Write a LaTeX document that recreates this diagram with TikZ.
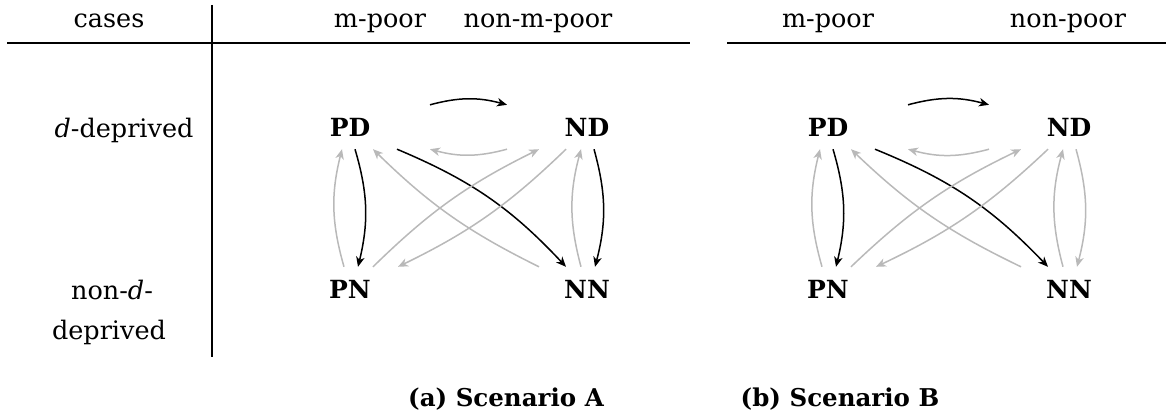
\documentclass[tikz,border=0pt]{standalone}
\usepackage{fontspec}
\setmainfont{DejaVu Serif}
\usetikzlibrary{arrows.meta}
\begin{document}
\begin{tikzpicture}[x=1pt,y=1pt,
  every node/.style={font=\fontsize{25.5}{30}\selectfont},
  lbl/.style={anchor=base},
  statebox/.style={font=\fontsize{25}{30}\selectfont\bfseries, inner sep=0pt, minimum height=44pt},
  rule/.style={line width=1.3pt},
  link/.style={line width=1.5pt, -{Stealth[length=10pt,width=8.5pt,inset=3pt]}},
  strong/.style={link, draw=black},
  weak/.style={link, draw=gray!55},
  captext/.style={anchor=base, font=\fontsize{24.5}{28}\selectfont\bfseries}]
\useasboundingbox (0,0) rectangle (1166,-412);

% table header and rules
\node[lbl] (hcase) at (109,-28) {cases};
\node[lbl] (hmpa)  at (380,-28) {m-poor};
\node[lbl] (hnmpa) at (538,-28) {non-m-poor};
\node[lbl] (hmpb)  at (828,-28) {m-poor};
\node[lbl] (hnpb)  at (1068,-28) {non-poor};
\draw[rule] (7,-43) -- (690,-43);
\draw[rule] (727,-43) -- (1166,-43);
\draw[rule] (212,-5) -- (212,-357);

% row labels
\node[lbl] (rowd)   at (124,-137) {\textit{d}-deprived};
\node[lbl] (rownd1) at (112,-299) {non-\textit{d}-};
\node[lbl] (rownd2) at (109,-339) {deprived};

% the two transition graphs
\foreach \s/\xl/\xr/\col in {a/350/587/black, b/828/1069/gray!55} {
  \node[statebox] (PD\s) at (\xl,-127) {PD};
  \node[statebox] (ND\s) at (\xr,-127) {ND};
  \node[statebox] (PN\s) at (\xl,-289) {PN};
  \node[statebox] (NN\s) at (\xr,-289) {NN};
  \draw[strong] ([xshift=80pt]PD\s.north) to[bend left=15] ([xshift=-80pt]ND\s.north);
  \draw[weak]   ([xshift=-80pt]ND\s.south) to[bend left=15] ([xshift=80pt]PD\s.south);
  \draw[strong] ([xshift=5pt]PD\s.south) to[bend left=15] ([xshift=8pt]PN\s.north);
  \draw[weak]   ([xshift=-6pt]PN\s.north) to[bend left=15] ([xshift=-8pt]PD\s.south);
  \draw[strong] ([xshift=47pt]PD\s.south) to[bend left=12] ([xshift=-21pt]NN\s.north);
  \draw[weak]   ([xshift=-48pt]NN\s.north) to[bend left=9] ([xshift=23pt]PD\s.south);
  \draw[weak]   ([xshift=23pt]PN\s.north) to[bend left=9] ([xshift=-48pt]ND\s.south);
  \draw[weak]   ([xshift=-21pt]ND\s.south) to[bend left=9] ([xshift=48pt]PN\s.north);
  \draw[link, draw=\col] ([xshift=7pt]ND\s.south) to[bend left=15] ([xshift=8pt]NN\s.north);
  \draw[weak]   ([xshift=-6pt]NN\s.north) to[bend left=15] ([xshift=-6pt]ND\s.south);
}

% captions
\node[captext] (capa) at (506,-406) {(a) Scenario A};
\node[captext] (capb) at (840,-406) {(b) Scenario B};
\end{tikzpicture}
\end{document}
